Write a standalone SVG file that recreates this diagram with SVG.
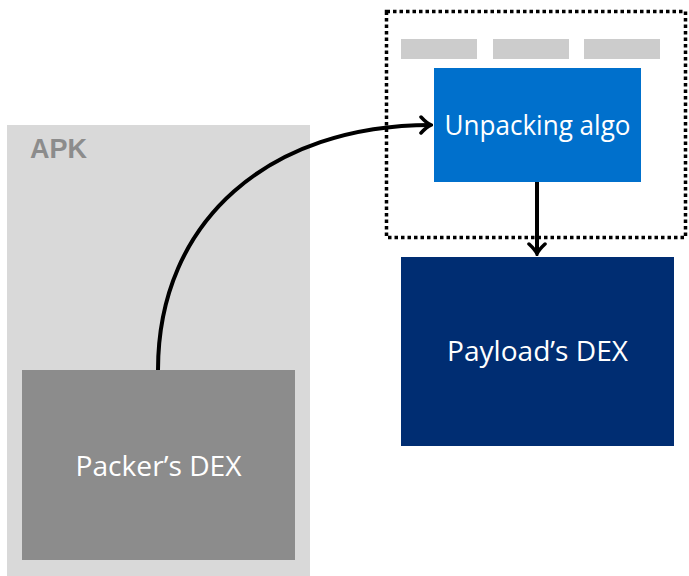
<svg xmlns="http://www.w3.org/2000/svg" width="689" height="576" viewBox="0 0 689 576">
<defs>
<style>
.lbl{font-family:"Open Sans","Liberation Sans",sans-serif;font-size:27px;fill:#ffffff;text-anchor:middle;dominant-baseline:central}
.bar{fill:#cccccc}
.conn{fill:none;stroke:#000;stroke-width:4}
</style>
<marker id="arr" viewBox="0 0 14 20" refX="12" refY="10" markerWidth="14" markerHeight="20" markerUnits="userSpaceOnUse" orient="auto">
<path d="M2,2 Q8,8.5 12,10 Q8,11.5 2,18" fill="none" stroke="#000" stroke-width="3.5" stroke-linecap="round"/>
</marker>
</defs>
<rect width="689" height="576" fill="#ffffff"/>
<g id="apk">
<rect x="7" y="125" width="303" height="451" fill="#d9d9d9"/>
<text x="30" y="158" font-family="Liberation Sans, sans-serif" font-weight="bold" font-size="27" fill="#8c8c8c">APK</text>
</g>
<g id="packer">
<rect x="22" y="370" width="273" height="190" fill="#8c8c8c"/>
<text class="lbl" x="158.5" y="465" textLength="166" lengthAdjust="spacingAndGlyphs">Packer’s DEX</text>
</g>
<g id="runtime">
<rect x="386.5" y="11.5" width="299" height="226" fill="none" stroke="#000" stroke-width="3.5" stroke-dasharray="3.5 3"/>
<rect class="bar" x="401" y="39" width="76" height="20"/>
<rect class="bar" x="493" y="39" width="76" height="20"/>
<rect class="bar" x="584" y="39" width="76" height="20"/>
</g>
<g id="unpacking">
<rect x="434" y="68" width="207" height="114" fill="#0070cc"/>
<text class="lbl" x="537.5" y="124" textLength="186" lengthAdjust="spacingAndGlyphs">Unpacking algo</text>
</g>
<g id="payload">
<rect x="401" y="257" width="273" height="189" fill="#002d72"/>
<text class="lbl" x="537.5" y="350" textLength="181" lengthAdjust="spacingAndGlyphs">Payload’s DEX</text>
</g>
<g id="connectors">
<path class="conn" d="M158,370 C158,220 270,125 431,125" marker-end="url(#arr)"/>
<path class="conn" d="M537,182 L537,254" marker-end="url(#arr)"/>
</g>
</svg>
